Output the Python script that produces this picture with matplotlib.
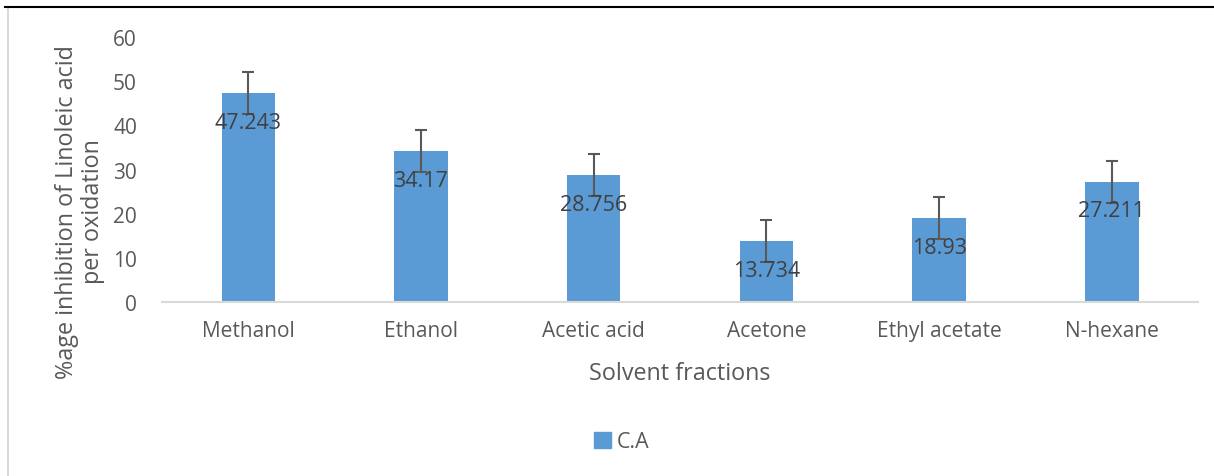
import numpy as np
import matplotlib
matplotlib.use("Agg")
import matplotlib.pyplot as plt
from matplotlib.lines import Line2D
from matplotlib.patches import Patch

# datos
categorias = ["Methanol", "Ethanol", "Acetic acid", "Acetone", "Ethyl acetate", "N-hexane"]
valores = [47.243, 34.17, 28.756, 13.734, 18.93, 27.211]
errores = [4.75, 4.75, 4.75, 4.75, 4.75, 4.75]
etiquetas = ["47.243", "34.17", "28.756", "13.734", "18.93", "27.211"]
yticks = [0, 10, 20, 30, 40, 50, 60]

plt.rcParams['font.family'] = ['Open Sans', 'DejaVu Sans']

fig = plt.figure(figsize=(12.14, 4.77), dpi=100)
ax = fig.add_axes([0.1334, 0.3648, 0.8535, 0.5555])

x = np.arange(len(categorias))
ax.bar(x, valores, width=0.31, color='#5B9BD5', zorder=2)
ax.errorbar(x, valores, yerr=errores, fmt='none', ecolor='#595959',
            elinewidth=1.5, capsize=4.5, capthick=1.5, zorder=3)

for xi, v, t in zip(x, valores, etiquetas):
    ax.annotate(t, (xi, v), xytext=(0, -21), textcoords='offset points',
                ha='center', va='center', fontsize=15.5, color='#404040', zorder=4)

ax.set_xlim(-0.5, len(categorias) - 0.5)
ax.set_ylim(0, 60)
ax.set_yticks(yticks)
ax.set_xticks(x)
ax.set_xticklabels(categorias)
ax.tick_params(axis='both', length=0, labelsize=15, colors='#595959')
ax.tick_params(axis='y', pad=18)
ax.tick_params(axis='x', pad=13)

for s in ['top', 'right', 'left']:
    ax.spines[s].set_visible(False)
ax.spines['bottom'].set_color('#D9D9D9')
ax.spines['bottom'].set_linewidth(1.5)

fig.text(80 / 1214, 1 - 212 / 477, "%age inhibition of Linoleic acid\nper oxidation",
         rotation=90, ha='center', va='center', multialignment='center',
         fontsize=16.8, color='#595959', linespacing=1.1)
fig.text(680 / 1214, 1 - 374 / 477, "Solvent fractions", ha='center', va='center',
         fontsize=16.8, color='#595959')

leg = fig.legend(handles=[Patch(color='#5B9BD5', label='C.A')],
                 loc='center', bbox_to_anchor=(622 / 1214, 1 - 443 / 477),
                 frameon=False, fontsize=15.4, handlelength=0.75, handleheight=0.75,
                 handletextpad=0.3)
for t in leg.get_texts():
    t.set_color('#595959')

# bordes del recorte
fig.add_artist(Line2D([5 / 1214, 1], [1 - 8 / 477, 1 - 8 / 477], transform=fig.transFigure,
                      color='black', linewidth=1.5))
fig.add_artist(Line2D([8 / 1214, 8 / 1214], [0, 1 - 10 / 477], transform=fig.transFigure,
                      color='#D9D9D9', linewidth=1.5))

fig.savefig("out.png", dpi=100)
